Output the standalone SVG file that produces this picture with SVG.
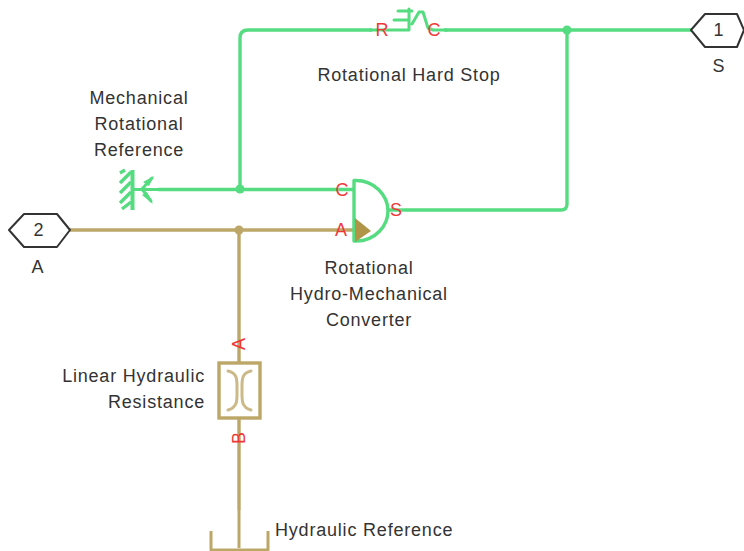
<svg xmlns="http://www.w3.org/2000/svg" width="744" height="551" viewBox="0 0 744 551">
<style>
text{font-family:"Liberation Sans",Arial,sans-serif;font-size:18px;letter-spacing:.8px;fill:#333}
.c{text-anchor:middle}
.e{text-anchor:end}
.p{font-size:18px;letter-spacing:0;fill:#f03838;text-anchor:middle}
.g{fill:none;stroke:#55dc80;stroke-width:3.400;stroke-linejoin:round}
.g2{fill:none;stroke:#55dc80;stroke-width:3;stroke-linejoin:round;stroke-linecap:round}
.h{fill:none;stroke:#bda768;stroke-width:3.400;stroke-linejoin:round}
.h2{fill:none;stroke:#cbb987;stroke-width:3;stroke-linecap:round}
.port{fill:#fff;stroke:#333;stroke-width:2;stroke-linejoin:round}
</style>
<rect width="744" height="551" fill="#fff"/>
<g id="connectors">
<path class="g" d="M158 189.500H354M240 189V38Q240 30 248 30H372M444 30H692M567 30V204Q567 210 561 210H404"/>
<circle cx="240" cy="189" r="4.500" fill="#55dc80"/>
<circle cx="567" cy="30" r="4.500" fill="#55dc80"/>
<path class="h" d="M68 230H354M239 230V362M239 418V510"/>
<circle cx="239" cy="230" r="4.500" fill="#bda768"/>
</g>
<g id="hard-stop">
<path class="g2" d="M370 30H409V9M398 11H412M394 20H409M412 24L419 12H423L428 28L433 30H447"/>
<text class="p" x="382" y="36">R</text>
<text class="p" x="434" y="36">C</text>
<text class="c" x="409" y="81">Rotational Hard Stop</text>
</g>
<g id="mechanical-reference">
<path class="g" d="M132.500 170V210" style="stroke-width:4"/>
<path class="g" d="M120 173L125 170M120 183L131 172M120 193L131 182M120 203L131 192M122 209L131 202"/>
<path class="g2" d="M133 189.500H158M142 189L152 178M142 189L151 201"/>
<path d="M143 182L154 176L149 186ZM142 195L153 204L147 192Z" fill="#55dc80"/>
<text class="c" x="139" y="104">Mechanical</text>
<text class="c" x="139" y="130">Rotational</text>
<text class="c" x="139" y="156">Reference</text>
</g>
<g id="converter">
<path class="g" d="M354 180.500V241H356C376 241 388 225 388 211C388 195 374 180.500 356 180.500Z"/>
<path d="M355 218L371 231L355 242Z" fill="#b09448"/>
<path class="g" d="M388 210H404"/>
<text class="p" x="342" y="196">C</text>
<text class="p" x="341" y="236">A</text>
<text class="p" x="396" y="216">S</text>
<text class="c" x="369" y="274">Rotational</text>
<text class="c" x="369" y="300">Hydro-Mechanical</text>
<text class="c" x="369" y="326">Converter</text>
</g>
<g id="resistance">
<rect x="219" y="363" width="41" height="55" fill="#fff" stroke="#bda768" stroke-width="3.400"/>
<path class="h2" d="M228 371C238 373 237 381 237 390C237 400 238 407 228 410M251 371C241 373 242 381 242 390C242 400 241 407 251 410"/>
<text class="p" x="239" y="350" transform="rotate(-90 239 344)">A</text>
<text class="p" x="239" y="444" transform="rotate(-90 239 438)">B</text>
<text class="e" x="205" y="382">Linear Hydraulic</text>
<text class="e" x="205" y="408">Resistance</text>
</g>
<g id="hydraulic-reference">
<path class="h" d="M239 510V548" style="stroke-width:3"/>
<path class="h" d="M211 531V550H268V531" style="stroke-width:3"/>
<text x="275" y="536">Hydraulic Reference</text>
</g>
<g id="port-s">
<path class="port" d="M691 30L705 14H737L744 30L737 47H705Z"/>
<text class="c" x="719" y="36">1</text>
<text class="c" x="719" y="72">S</text>
</g>
<g id="port-a">
<path class="port" d="M9 230L24 214H57L70 230L57 247H24Z"/>
<text class="c" x="39" y="236">2</text>
<text class="c" x="38" y="273">A</text>
</g>
</svg>
